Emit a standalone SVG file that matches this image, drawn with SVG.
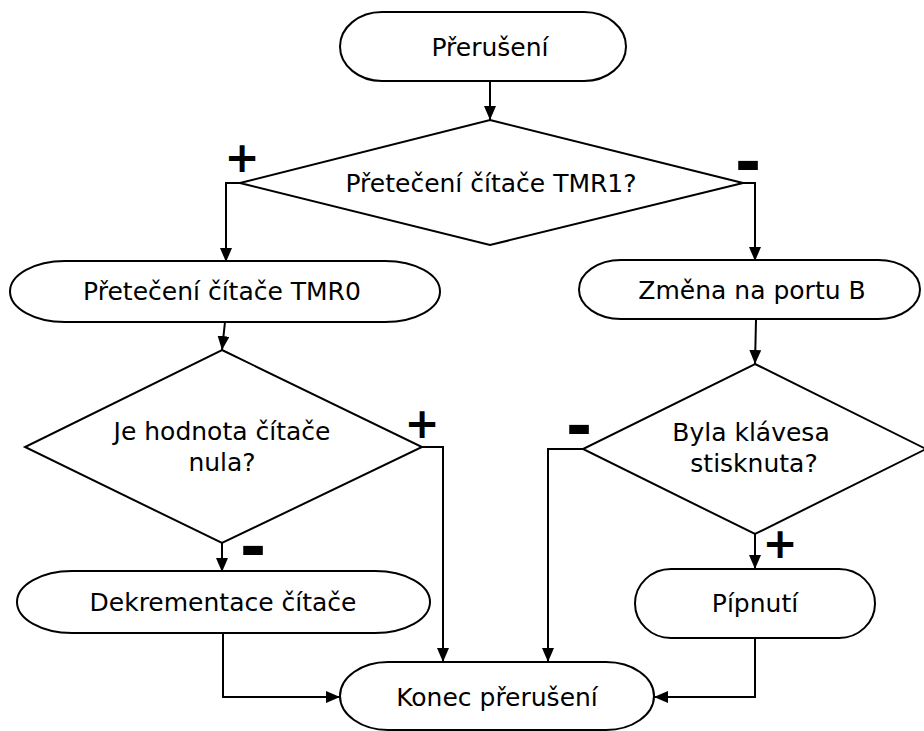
<svg xmlns="http://www.w3.org/2000/svg" width="924" height="731" viewBox="0 0 924 731">
<defs>
<marker id="ah" viewBox="0 0 14 12" refX="14" refY="6" markerWidth="14" markerHeight="12" markerUnits="userSpaceOnUse" orient="auto">
<path d="M0,0 L14,6 L0,12 Z" fill="#000"/>
</marker>
<style>
.s{fill:#fff;stroke:#000;stroke-width:2}
.t{font-family:"DejaVu Sans",sans-serif;font-size:25px;fill:#000;text-anchor:middle}
.c{fill:none;stroke:#000;stroke-width:2}
.p{font-family:"DejaVu Sans",sans-serif;font-weight:bold;font-size:42px;fill:#000;text-anchor:middle}
.m{font-family:"DejaVu Sans",sans-serif;font-weight:bold;font-size:64px;fill:#000;text-anchor:middle}
</style>
</defs>
<rect width="924" height="731" fill="#fff"/>
<g id="connectors">
<path class="c" d="M490,81 V120" marker-end="url(#ah)"/>
<path class="c" d="M240,183 H226 V262" marker-end="url(#ah)"/>
<path class="c" d="M743,183 H755 V261" marker-end="url(#ah)"/>
<path class="c" d="M225,322 L222,350" marker-end="url(#ah)"/>
<path class="c" d="M756,320 L755,364" marker-end="url(#ah)"/>
<path class="c" d="M422,447 H443 V662" marker-end="url(#ah)"/>
<path class="c" d="M222,543 V572" marker-end="url(#ah)"/>
<path class="c" d="M583,449 H548 V662" marker-end="url(#ah)"/>
<path class="c" d="M755,534 V569" marker-end="url(#ah)"/>
<path class="c" d="M223,633 V697 H340" marker-end="url(#ah)"/>
<path class="c" d="M755,638 V697 H654" marker-end="url(#ah)"/>
</g>
<g id="n_prerusen">
<rect class="s" x="340" y="12" width="286" height="69" rx="42" ry="34.5"/>
<text class="t" x="490" y="56">Přerušení</text>
</g>
<g id="n_tmr1">
<polygon class="s" points="490,120 743,183 490,245 240,183"/>
<text class="t" x="491" y="192">Přetečení čítače TMR1?</text>
</g>
<g id="n_tmr0">
<rect class="s" x="10" y="261" width="430" height="61" rx="55" ry="30.5"/>
<text class="t" x="222" y="300">Přetečení čítače TMR0</text>
</g>
<g id="n_portb">
<rect class="s" x="579" y="260" width="341" height="59" rx="42" ry="29.5"/>
<text class="t" x="752" y="299">Změna na portu B</text>
</g>
<g id="n_nula">
<polygon class="s" points="222,350 422,447 222,543 25,447"/>
<text class="t" x="222" y="440">Je hodnota čítače</text>
<text class="t" x="222" y="471">nula?</text>
</g>
<g id="n_klavesa">
<polygon class="s" points="755,364 926,449 755,534 583,449"/>
<text class="t" x="751" y="441">Byla klávesa</text>
<text class="t" x="754" y="472">stisknuta?</text>
</g>
<g id="n_dekrement">
<rect class="s" x="17" y="571" width="413" height="62" rx="55" ry="31"/>
<text class="t" x="223" y="611">Dekrementace čítače</text>
</g>
<g id="n_pipnuti">
<rect class="s" x="635" y="569" width="240" height="69" rx="36" ry="34.5"/>
<text class="t" x="755" y="612">Pípnutí</text>
</g>
<g id="n_konec">
<rect class="s" x="340" y="662" width="314" height="68" rx="48" ry="34"/>
<text class="t" x="497" y="706">Konec přerušení</text>
</g>
<g id="labels">
<text class="p" x="242" y="172">+</text>
<text class="m" x="748" y="184">-</text>
<text class="p" x="422" y="438">+</text>
<text class="m" x="253" y="569">-</text>
<text class="m" x="579" y="448">-</text>
<text class="p" x="780" y="558">+</text>
</g>
</svg>
